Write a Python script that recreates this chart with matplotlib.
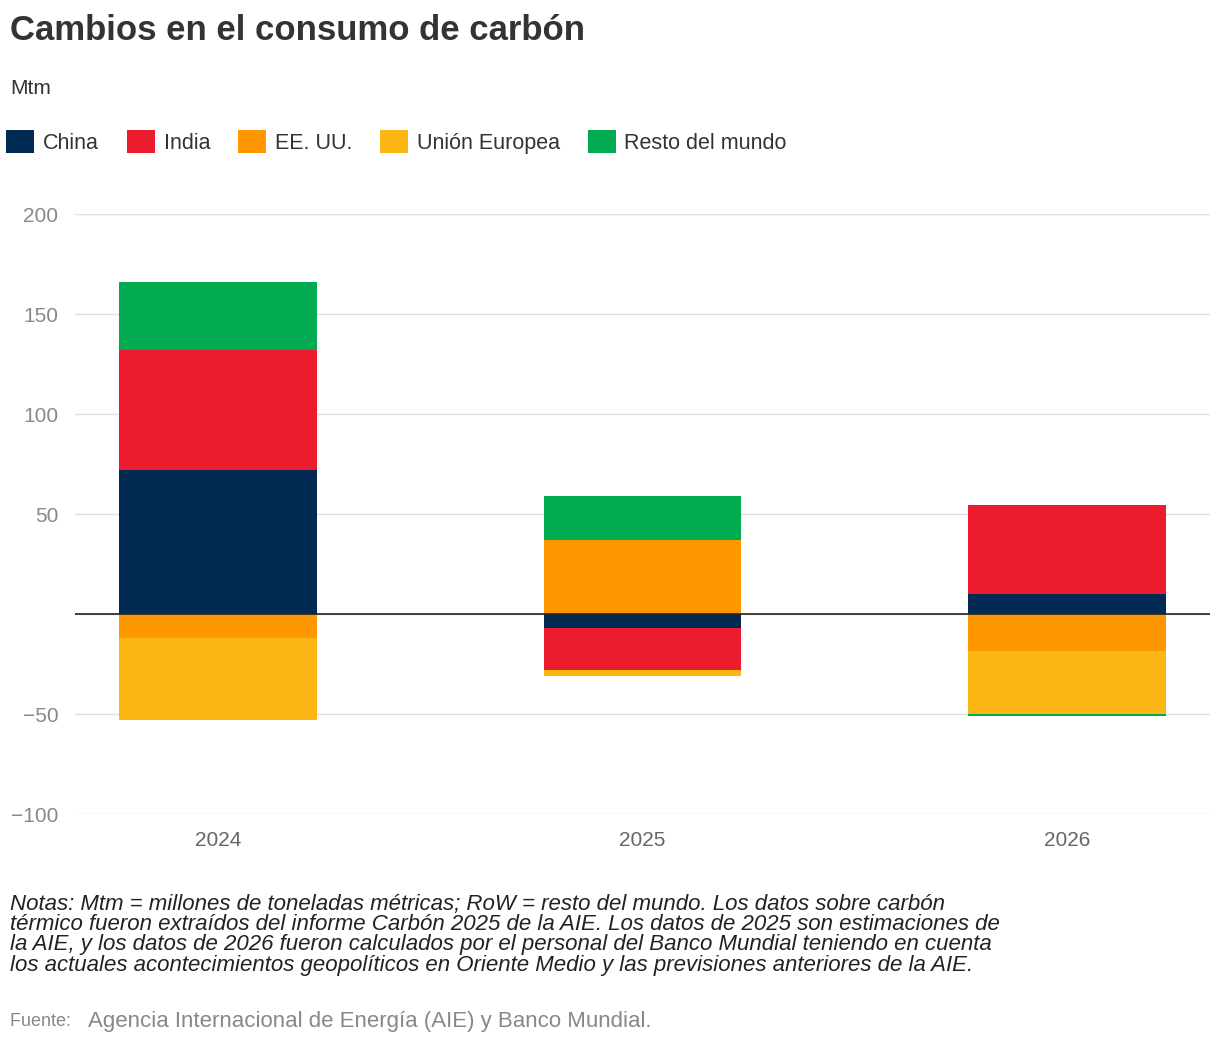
import matplotlib
matplotlib.use('Agg')
import matplotlib.pyplot as plt
from matplotlib.patches import Patch
import numpy as np

plt.rcParams['font.family'] = ['Liberation Sans', 'DejaVu Sans']

years = ['2024', '2025', '2026']
series = ['China', 'India', 'EE. UU.', 'Unión Europea', 'Resto del mundo']
colors = ['#002A52', '#EB1C2D', '#FF9800', '#FDB714', '#00AB51']
china = [72, -7, 10]
india = [60, -21, 44.5]
eeuu = [-12, 37, -18.5]
ue = [-41, -3, -31.5]
resto = [34, 22, -1]
values = [china, india, eeuu, ue, resto]

fig = plt.figure(figsize=(12.2, 10.52), dpi=100)
ax = fig.add_axes([75/1220, 1-814/1052, 1135/1220, 600/1052])

x = np.arange(len(years))
pos = np.zeros(len(years))
neg = np.zeros(len(years))
for vals, col in zip(values, colors):
    v = np.array(vals, dtype=float)
    bottom = np.where(v >= 0, pos, neg)
    ax.bar(x, v, width=0.466, bottom=bottom, color=col, zorder=3)
    pos = np.where(v >= 0, pos + v, pos)
    neg = np.where(v < 0, neg + v, neg)

ax.set_xlim(-0.337, 2.337)
ax.set_ylim(-100, 200)
ax.set_yticks([-100, -50, 0, 50, 100, 150, 200])
ax.set_yticklabels(['−100', '−50', '', '50', '100', '150', '200'])
ax.set_xticks(x)
ax.set_xticklabels(years)
ax.grid(axis='y', color='#e0e0e0', linewidth=1, zorder=0)
ax.axhline(0, color='#222222', linewidth=1.2, zorder=4)
for s in ax.spines.values():
    s.set_visible(False)
ax.tick_params(length=0, labelsize=15, colors='#888888', pad=12)
ax.tick_params(axis='x', colors='#666666')

fig.text(10/1220, 1-30/1052, 'Cambios en el consumo de carbón', fontsize=25,
         fontweight='bold', color='#333333', va='center')
fig.text(10/1220, 1-88/1052, 'Mtm', fontsize=15, color='#333333', va='center')

handles = [Patch(facecolor=c, label=s) for s, c in zip(series, colors)]
fig.legend(handles=handles, loc='center left', bbox_to_anchor=(0.0, 1-142/1052),
           ncol=5, frameon=False, fontsize=15.5, handlelength=1.3, handleheight=1.3,
           handletextpad=0.4, columnspacing=1.3, borderaxespad=0, borderpad=0.3,
           labelcolor='#333333')

notes = ('Notas: Mtm = millones de toneladas métricas; RoW = resto del mundo. Los datos sobre carbón\n'
         'térmico fueron extraídos del informe Carbón 2025 de la AIE. Los datos de 2025 son estimaciones de\n'
         'la AIE, y los datos de 2026 fueron calculados por el personal del Banco Mundial teniendo en cuenta\n'
         'los actuales acontecimientos geopolíticos en Oriente Medio y las previsiones anteriores de la AIE.')
fig.text(10/1220, 1-894/1052, notes, fontsize=16, style='italic', color='#222222',
         va='top', linespacing=0.95)
fig.text(10/1220, 1-1022/1052, 'Fuente: ', fontsize=13, color='#888888', va='center')
fig.text(88/1220, 1-1022/1052, 'Agencia Internacional de Energía (AIE) y Banco Mundial.',
         fontsize=16, color='#888888', va='center')

fig.savefig('out.png', dpi=100)
